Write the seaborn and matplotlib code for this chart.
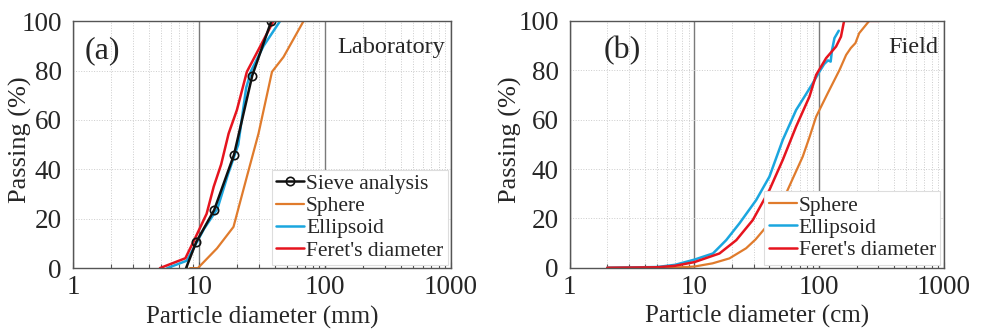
import matplotlib
matplotlib.use('Agg')
import matplotlib.pyplot as plt
import matplotlib.ticker as mticker
import seaborn as sns

# (a) Laboratory, diameters in mm
lab_sieve_d = [7.9, 9.5, 13.2, 19.0, 26.5, 37.5]
lab_sieve_p = [0, 10.5, 23.5, 46, 78, 100]
lab_sphere_d = [8.5, 9.8, 13.9, 18.8, 24.0, 29.7, 38.0, 46.9, 67.6]
lab_sphere_p = [0, 0, 8, 16.7, 37, 54.5, 79.5, 85.5, 100]
lab_ellip_d = [5.6, 8.0, 9.5, 11.0, 14.0, 17.0, 20.5, 23.7, 26.0, 32.6, 44.0]
lab_ellip_p = [0, 3, 10, 16, 24, 38, 50, 73, 80, 90, 100]
lab_feret_d = [4.9, 7.8, 9.1, 11.5, 13.1, 15.0, 17.2, 20.0, 24.0, 28.0, 39.0]
lab_feret_p = [0, 4, 11, 22, 33, 42, 54.5, 64, 79.5, 86, 100]

# (b) Field, diameters in cm
fld_sphere_d = [2, 5, 7, 10, 14, 19.1, 26, 31, 37.7, 45, 54.5, 64, 74, 84, 94.8, 117.5, 146, 165, 180, 196, 210, 253, 305]
fld_sphere_p = [0, 0, 0.1, 0.5, 1.8, 3.8, 7.9, 11.5, 16.6, 23, 30.2, 38, 45, 53, 61.2, 70.7, 80.1, 86.2, 89, 91, 95, 100, 100]
fld_ellip_d = [2, 5, 7, 10, 14.1, 18, 23, 31.3, 40, 51.2, 65.5, 78, 89, 100.7, 110, 118, 124, 127, 133, 144]
fld_ellip_p = [0, 0.3, 1.2, 3.3, 5.8, 11.2, 18, 27.4, 36.9, 51.8, 63.9, 70, 74.7, 79.4, 82.5, 84, 83.5, 88, 93, 96]
fld_feret_d = [2, 5, 7, 10, 15.9, 21.7, 29.4, 40, 51.2, 65.5, 83.8, 94.8, 114, 137, 150, 159, 305]
fld_feret_p = [0, 0.2, 0.8, 2.3, 5.8, 11.2, 19.3, 31.5, 43.7, 57.2, 69.3, 78.1, 84.9, 89.6, 93.6, 100, 100]

BLACK = '#111111'
ORANGE = '#e07b2c'
BLUE = '#1aa6df'
RED = '#e6141e'

sns.set_theme(style='white')
plt.rcParams['font.family'] = ['Liberation Serif', 'DejaVu Serif']

fig = plt.figure(figsize=(9.84, 3.31), dpi=100)
ax_a = fig.add_axes([0.0742, 0.19, 0.384, 0.746])
ax_b = fig.add_axes([0.579, 0.191, 0.380, 0.746])


def style_axes(ax, xlabel, ylab_x):
    ax.set_xscale('log')
    ax.set_xlim(1, 1000)
    ax.set_ylim(0, 100)
    ax.set_yticks([0, 20, 40, 60, 80, 100])
    ax.xaxis.set_major_locator(mticker.LogLocator(base=10, numticks=5))
    ax.xaxis.set_major_formatter(mticker.FuncFormatter(lambda v, p: f'{v:g}'))
    ax.xaxis.set_minor_locator(mticker.LogLocator(base=10, subs=range(2, 10), numticks=20))
    ax.xaxis.set_minor_formatter(mticker.NullFormatter())
    ax.grid(True, which='major', axis='x', color='#7a7a7a', linewidth=1.0, linestyle='-')
    ax.grid(True, which='minor', axis='x', color='#cccccc', linewidth=0.7, linestyle=':')
    ax.grid(True, which='major', axis='y', color='#cccccc', linewidth=0.7, linestyle=':')
    ax.tick_params(axis='x', which='both', direction='in', bottom=True, top=False, length=4,
                   width=0.8, color='#555555', labelsize=19.5, pad=5)
    ax.tick_params(axis='x', which='minor', length=3)
    ax.tick_params(axis='y', which='both', left=False, labelsize=19.5, pad=2)
    for s in ax.spines.values():
        s.set_color('#555555')
        s.set_linewidth(1.0)
    ax.set_xlabel(xlabel, fontsize=18, labelpad=4)
    ax.set_ylabel('Passing (%)', fontsize=19)
    ax.yaxis.set_label_coords(ylab_x, 0.52)
    ax.set_axisbelow(True)


def style_legend(leg):
    leg.get_frame().set_edgecolor('#dddddd')
    leg.get_frame().set_linewidth(0.8)


# panel (a)
sns.lineplot(x=lab_sphere_d, y=lab_sphere_p, ax=ax_a, color=ORANGE, lw=1.6, sort=False, estimator=None, label='Sphere')
sns.lineplot(x=lab_ellip_d, y=lab_ellip_p, ax=ax_a, color=BLUE, lw=1.8, sort=False, estimator=None, label='Ellipsoid')
sns.lineplot(x=lab_feret_d, y=lab_feret_p, ax=ax_a, color=RED, lw=1.8, sort=False, estimator=None, label="Feret's diameter")
sns.lineplot(x=lab_sieve_d, y=lab_sieve_p, ax=ax_a, color=BLACK, lw=1.8, sort=False, estimator=None,
             marker='o', markersize=6, markerfacecolor='none', markeredgecolor=BLACK, markeredgewidth=1.2,
             markevery=list(range(1, len(lab_sieve_d))), label='Sieve analysis')
style_axes(ax_a, 'Particle diameter (mm)', -0.108)
h, l = ax_a.get_legend_handles_labels()
order = [3, 0, 1, 2]
leg = ax_a.legend([h[i] for i in order], [l[i] for i in order], loc='lower right', fontsize=15.5,
                  handlelength=1.3, handletextpad=0.1, borderpad=0.2, labelspacing=0.1,
                  borderaxespad=0.15, frameon=True, fancybox=False, framealpha=1)
style_legend(leg)
ax_a.text(0.03, 0.94, '(a)', transform=ax_a.transAxes, fontsize=23, va='top', ha='left')
ax_a.text(0.985, 0.935, 'Laboratory', transform=ax_a.transAxes, fontsize=17.5, va='top', ha='right')

# panel (b)
sns.lineplot(x=fld_sphere_d, y=fld_sphere_p, ax=ax_b, color=ORANGE, lw=1.6, sort=False, estimator=None, label='Sphere')
sns.lineplot(x=fld_ellip_d, y=fld_ellip_p, ax=ax_b, color=BLUE, lw=1.8, sort=False, estimator=None, label='Ellipsoid')
sns.lineplot(x=fld_feret_d, y=fld_feret_p, ax=ax_b, color=RED, lw=1.8, sort=False, estimator=None, label="Feret's diameter")
style_axes(ax_b, 'Particle diameter (cm)', -0.128)
leg = ax_b.legend(loc='lower right', fontsize=15.5, handlelength=1.3, handletextpad=0.1, borderpad=0.2,
                  labelspacing=0.1, borderaxespad=0.15, frameon=True, fancybox=False, framealpha=1)
style_legend(leg)
ax_b.text(0.09, 0.94, '(b)', transform=ax_b.transAxes, fontsize=23, va='top', ha='left')
ax_b.text(0.985, 0.935, 'Field', transform=ax_b.transAxes, fontsize=17.5, va='top', ha='right')

fig.savefig('out.png', dpi=100)
plt.close(fig)
